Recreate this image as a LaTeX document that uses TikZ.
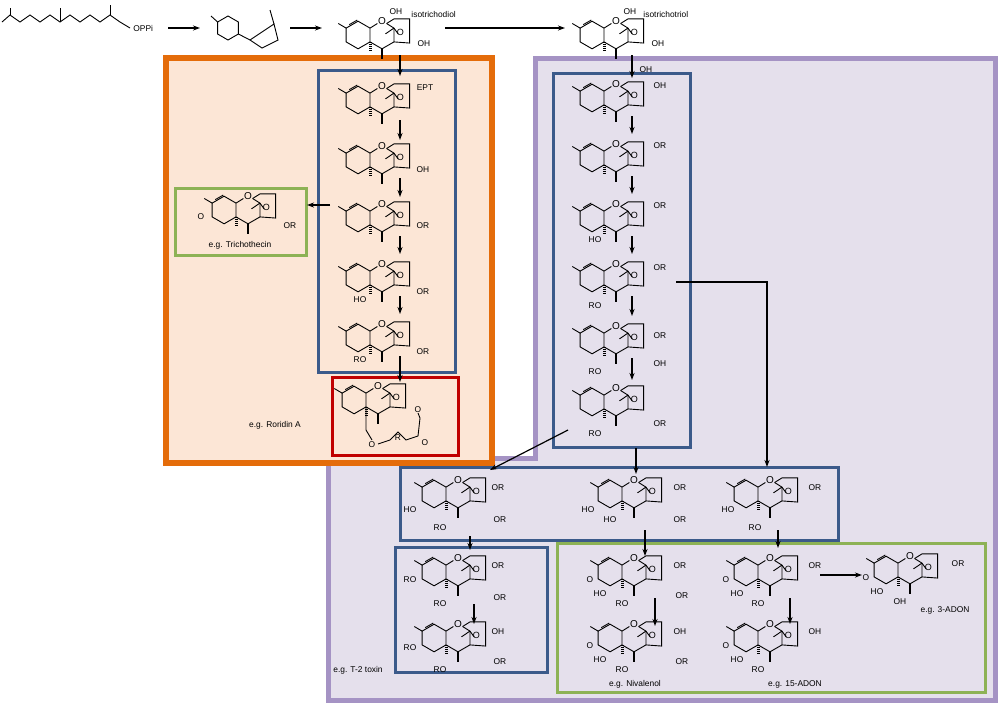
\documentclass[tikz,border=0pt]{standalone}
\usepackage{fontspec}
\setmainfont{Liberation Sans}
\usetikzlibrary{arrows.meta}
\definecolor{orng}{HTML}{E46C0A}
\definecolor{peach}{HTML}{FCE6D6}
\definecolor{lav}{HTML}{E5E0EC}
\definecolor{lavd}{HTML}{A593C4}
\definecolor{blu}{HTML}{3B5A8A}
\definecolor{grn}{HTML}{8DB255}
\definecolor{rd}{HTML}{C00000}
\begin{document}
\begin{tikzpicture}[x=0.5pt,y=-0.5pt,line width=0.45pt,
  lbl/.style={font=\fontsize{4.2}{5}\selectfont,inner sep=0.5pt},
  arr/.style={-{Stealth[length=3.5pt,width=2.5pt]},line width=0.6pt},
  bbox/.style={draw=blu,line width=1.5pt},
  gbox/.style={draw=grn,line width=1.5pt},
  tri/.pic={
   \begin{scope}[scale=1.15]
    \draw (-20.8,0)+(90:12) -- +(150:12) -- +(210:12) -- +(270:12) -- +(330:12) -- +(30:12) -- cycle;
    \draw (-31.2,-6) -- (-38,-10);
    \draw (-28.5,-9) -- (-21.5,-13);
    \draw (-10.4,-6) -- (-4,-10); \draw (4,-10) -- (10.4,-6) -- (10.4,6) -- (0,12) -- (-10.4,6);
    \node[lbl,font=\fontsize{5}{5}\selectfont] at (0,-12) {O};
    \draw (4,-10) -- (10.4,-14) -- (24,-14) -- (24,7) -- (10.4,6);
    \draw (10.4,-6) -- (3,-1); \draw (10.4,-6)--(14,-1);
    \node[lbl,font=\fontsize{4.5}{5}\selectfont] at (16,-2) {O};
    \draw[line width=1.2pt] (0,12) -- (0,21);
    \draw[dash pattern=on 0.4pt off 0.6pt,line width=1.5pt] (-10.4,6) -- (-10.4,14);
   \end{scope}
  }]
\useasboundingbox (0,0) rectangle (1000,708);
\draw[fill=lav,draw=lavd,line width=2.5pt] (535,58) -- (995,58) -- (995,700) -- (328,700) -- (328,458) -- (535,458) -- cycle;
\draw[fill=peach,draw=orng,line width=3.2pt] (166,58) rectangle (492,463);
\draw[bbox] (318,70) rectangle (455,372);
\draw[bbox] (553,73) rectangle (690,447);
\draw[bbox] (400,467) rectangle (838,540);
\draw[bbox] (395,547) rectangle (547,672);
\draw[gbox] (175,188) rectangle (306,255);
\draw[gbox] (557,543) rectangle (985,692);
\draw[draw=rd,line width=1.5pt] (332,377) rectangle (458,455);
% top row
\draw (2,22) -- (10,15) -- (20,22) -- (30,15) -- (40,22) -- (50,15) -- (60,22) -- (70,15) -- (80,22) -- (90,15) -- (100,22) -- (110,15) -- (120,22) -- (130,28);
\draw (10,15) -- (10,8); \draw (60,22) -- (60,8); \draw (110,15) -- (110,5);
\node[lbl,anchor=west] (oppi) at (132,28) {OPPi};
\draw (228,28)+(90:12) -- +(150:12) -- +(210:12) -- +(270:12) -- +(330:12) -- +(30:12) -- cycle;
\draw (217.6,22) -- (211,16);
\draw (238.4,34) -- (250,40) -- (262,48) -- (278,40) -- (274,24) -- (250,40);
\draw (274,24) -- (270,10);
\draw[arr] (168,28) -- (200,28);
\draw[arr] (290,28) -- (322,28);
\pic at (382,35) {tri};
\node[lbl] at (396,12) {OH}; \node[lbl] at (424,44) {OH};
\node[lbl,anchor=west] at (410,14) {isotrichodiol};
\draw[arr] (445,28) -- (565,28);
\pic at (616,35) {tri};
\node[lbl] at (630,12) {OH}; \node[lbl] at (658,44) {OH}; \node[lbl] at (646,70) {OH};
\node[lbl,anchor=west] at (642,14) {isotrichotriol};
% orange column
\foreach \y in {100,160,218,278,338} \pic at (382,\y) {tri};
\pic at (378,400) {tri};
\draw (366,407) -- (366,430) -- (372,440);
\draw (378,444) -- (390,440) -- (398,432) -- (406,440) -- (418,436) -- (420,418) -- (418,413);
\node[lbl] at (372,445) {O}; \node[lbl] at (398,438) {R}; \node[lbl] at (425,443) {O};
\node[lbl] at (418,410) {O};
\node[lbl] at (425,88) {EPT};
\node[lbl] at (423,170) {OH};
\node[lbl] at (423,226) {OR};
\node[lbl] at (423,292) {OR};
\node[lbl] at (360,300) {HO};
\node[lbl] at (423,352) {OR};
\node[lbl] at (360,360) {RO};
\node[lbl] at (275,425) {e.g. Roridin A};
\pic at (248,210) {tri};
\node[lbl] at (201,217) {O}; \node[lbl] at (290,226) {OR};
\node[lbl] at (240,245) {e.g. Trichothecin};
\draw[arr] (400,55) -- (400,76);
\foreach \a/\b in {120/140,178/197,236/254,296/314} \draw[arr] (400,\a) -- (400,\b);
\draw[arr] (400,356) -- (400,382);
\draw[arr] (330,205) -- (307,205);
% purple column
\foreach \y in {98,158,218,278,340,402} \pic at (616,\y) {tri};
\node[lbl] at (660,86) {OH};
\foreach \y in {146,206,268,336,424} \node[lbl] at (660,\y) {OR};
\node[lbl] at (660,364) {OH};
\node[lbl] at (595,240) {HO};
\foreach \y in {306,372,434} \node[lbl] at (595,\y) {RO};
\draw[arr] (632,55) -- (632,78);
\foreach \a/\b in {116/134,176/194,236/254,296/316,358/380} \draw[arr] (632,\a) -- (632,\b);
\draw[arr] (676,282) -- (767,282) -- (767,467);
\draw[arr] (636,448) -- (636,474);
\draw[arr] (568,430) -- (490,470);
% blue row
\foreach \x in {458,634,770} \pic at (\x,494) {tri};
\node[lbl] at (498,488) {OR}; \node[lbl] at (500,520) {OR}; \node[lbl] at (410,510) {HO}; \node[lbl] at (440,528) {RO};
\node[lbl] at (680,488) {OR}; \node[lbl] at (680,520) {OR}; \node[lbl] at (588,510) {HO}; \node[lbl] at (610,520) {HO};
\node[lbl] at (815,488) {OR}; \node[lbl] at (728,510) {HO}; \node[lbl] at (755,528) {RO};
\draw[arr] (470,536) -- (470,550);
\draw[arr] (645,530) -- (645,556);
\draw[arr] (778,530) -- (778,548);
% T-2 box
\pic at (458,572) {tri}; \pic at (458,638) {tri};
\node[lbl] at (498,566) {OR}; \node[lbl] at (500,598) {OR}; \node[lbl] at (410,580) {RO}; \node[lbl] at (440,604) {RO};
\node[lbl] at (498,632) {OH}; \node[lbl] at (500,662) {OR}; \node[lbl] at (410,648) {RO}; \node[lbl] at (440,670) {RO};
\draw[arr] (474,604) -- (474,624);
\node[lbl] at (358,670) {e.g. T-2 toxin};
% green box
\pic at (634,572) {tri}; \pic at (634,638) {tri};
\pic at (770,572) {tri}; \pic at (770,638) {tri};
\pic at (910,570) {tri};
\node[lbl] at (590,580) {O}; \node[lbl] at (590,646) {O}; \node[lbl] at (726,580) {O}; \node[lbl] at (726,646) {O}; \node[lbl] at (866,578) {O};
\node[lbl] at (680,566) {OR}; \node[lbl] at (682,596) {OR}; \node[lbl] at (600,594) {HO}; \node[lbl] at (622,604) {RO};
\node[lbl] at (680,632) {OH}; \node[lbl] at (682,662) {OR}; \node[lbl] at (600,660) {HO}; \node[lbl] at (622,670) {RO};
\node[lbl] at (815,566) {OR}; \node[lbl] at (737,594) {HO}; \node[lbl] at (758,604) {RO};
\node[lbl] at (815,632) {OH}; \node[lbl] at (737,660) {HO}; \node[lbl] at (758,670) {RO};
\node[lbl] at (958,564) {OR}; \node[lbl] at (877,592) {HO}; \node[lbl] at (900,602) {OH};
\draw[arr] (655,598) -- (655,626);
\draw[arr] (790,598) -- (790,624);
\draw[arr] (820,575) -- (862,575);
\node[lbl] at (635,684) {e.g. Nivalenol};
\node[lbl] at (795,684) {e.g. 15-ADON};
\node[lbl] at (945,610) {e.g. 3-ADON};
\end{tikzpicture}
\end{document}
